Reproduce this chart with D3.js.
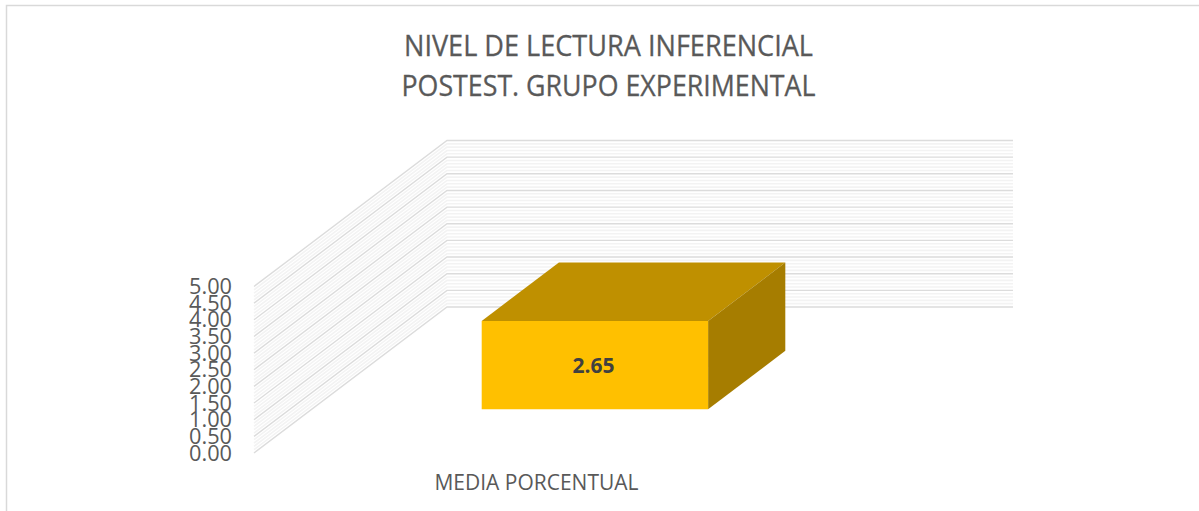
<!DOCTYPE html>
<html><head><meta charset="utf-8">
<script src="https://cdn.jsdelivr.net/npm/d3@7"></script>
<style>html,body{margin:0;padding:0;background:#fff;overflow:hidden}svg{display:block}text{font-family:"Open Sans",sans-serif}</style>
</head><body><svg id="c" width="1199" height="511"></svg>
<script>
const titleLines = ["NIVEL DE LECTURA INFERENCIAL", "POSTEST. GRUPO EXPERIMENTAL"];
const categories = ["MEDIA PORCENTUAL"];
const values = [2.65];
const valueLabels = ["2.65"];
const tickLabels = ["0.00","0.50","1.00","1.50","2.00","2.50","3.00","3.50","4.00","4.50","5.00"];
const tickValues = [0,0.5,1,1.5,2,2.5,3,3.5,4,4.5,5];

const svg = d3.select("#c");
// Oblique projection: category axis, depth axis and value axis
const X = d3.scaleLinear().domain([0,1]).range([0,566]);
const DX = d3.scaleLinear().domain([0,1]).range([254,447]);
const DY = d3.scaleLinear().domain([0,1]).range([453,307]);
const V = d3.scaleLinear().domain([0,5]).range([0,166.5]);
const P = (u,d,v) => [DX(d)+X(u), DY(d)-V(v)];
const line = d3.line();
const poly = pts => line(pts)+"Z";

// frame
svg.append("path").attr("d","M6.5,511V5.5H1199").attr("fill","none").attr("stroke","#d9d9d9").attr("stroke-width",1.5);

// gridlines
const minor = V.copy().ticks(50).filter(t => !tickValues.includes(+t.toFixed(2)));
const grid = svg.append("g").attr("fill","none");
grid.selectAll(".minor").data(minor).join("path").attr("class","minor")
  .attr("d",v=>line([P(0,0,v),P(0,1,v),P(1,1,v)])).attr("stroke","#f3f3f3").attr("stroke-width",1.6);
grid.selectAll(".major").data(tickValues).join("path").attr("class","major")
  .attr("d",v=>line([P(0,0,v),P(0,1,v),P(1,1,v)])).attr("stroke","#dcdcdc").attr("stroke-width",1.4);

// tick labels
svg.append("g").selectAll("text").data(tickValues).join("text")
  .attr("x",232).attr("y",v=>P(0,0,v)[1]+7.6).attr("text-anchor","end")
  .attr("font-size",22).attr("fill","#595959")
  .attr("textLength",43).attr("lengthAdjust","spacingAndGlyphs").text((v,i)=>tickLabels[i]);

// bars
const u0=0.30,u1=0.70,d0=0.30,d1=0.70;
const bars = svg.append("g").selectAll("g").data(values).join("g");
bars.append("path").attr("d",v=>poly([P(u0,d0,v),P(u0,d1,v),P(u1,d1,v),P(u1,d0,v)])).attr("fill","#bf9000");
bars.append("path").attr("d",v=>poly([P(u1,d0,0),P(u1,d1,0),P(u1,d1,v),P(u1,d0,v)])).attr("fill","#a67d00");
bars.append("path").attr("d",v=>poly([P(u0,d0,0),P(u1,d0,0),P(u1,d0,v),P(u0,d0,v)])).attr("fill","#ffc000");
bars.append("text").attr("x",(P(u0,d0,0)[0]+P(u1,d0,0)[0])/2-1.5).attr("y",v=>(P(u0,d0,0)[1]+P(u0,d0,v)[1])/2+8)
  .attr("text-anchor","middle").attr("font-size",21).attr("font-weight",700).attr("fill","#404040")
  .attr("textLength",42).attr("lengthAdjust","spacingAndGlyphs").text((v,i)=>valueLabels[i]);

// category label
svg.append("g").selectAll("text").data(categories).join("text")
  .attr("x",536.5).attr("y",490).attr("text-anchor","middle").attr("font-size",21).attr("fill","#595959")
  .attr("textLength",204).attr("lengthAdjust","spacingAndGlyphs").text(d=>d);

// title
svg.append("g").selectAll("text").data(titleLines).join("text")
  .attr("x",608.5).attr("y",(d,i)=>56+i*40).attr("text-anchor","middle").attr("font-size",28.5).attr("fill","#595959")
  .attr("stroke","#595959").attr("stroke-width",0.3)
  .attr("textLength",(d,i)=>i?414:409).attr("lengthAdjust","spacingAndGlyphs").text(d=>d);
</script></body></html>
